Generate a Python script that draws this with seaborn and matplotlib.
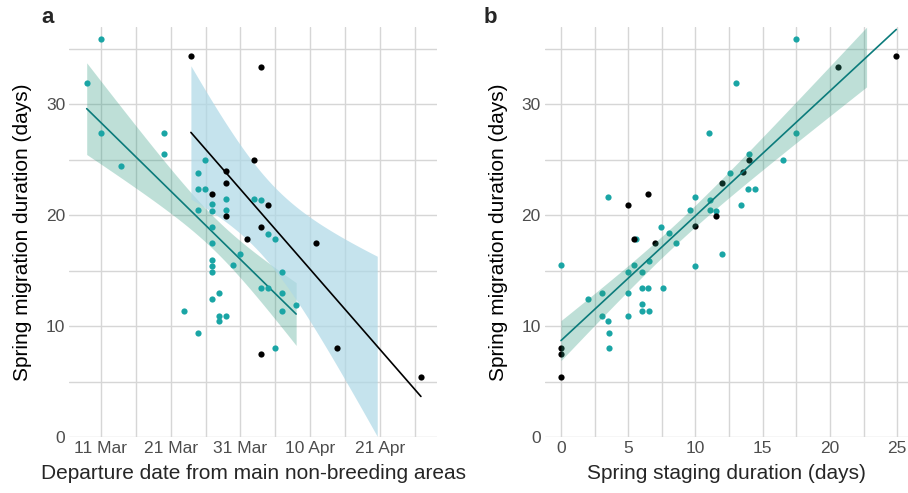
import numpy as np
import matplotlib
matplotlib.use("Agg")
import matplotlib.pyplot as plt
import seaborn as sns

# panel a: departure date (day of year) vs spring migration duration (days)
dep_teal = [70, 67.95, 70, 72.9, 79, 79, 84.9, 83.9, 83.9, 84.9, 83.9, 85.9, 85.9, 87.9,
            87.9, 85.9, 85.9, 85.9, 85.9, 85.9, 90, 89, 91.9, 93, 93.9, 94.9, 95.9, 93,
            93.9, 95.9, 95.9, 98, 85.9, 86.9, 86.9, 86.9, 87.9, 81.9, 83.9, 94.9]
dur_teal_a = [35.9, 31.9, 27.4, 24.4, 27.4, 25.5, 25.0, 23.8, 22.4, 22.4, 20.5, 21.0, 20.4, 21.5,
              20.5, 18.9, 17.5, 16.0, 15.4, 14.9, 16.5, 15.5, 21.5, 21.4, 18.3, 17.9, 14.9, 13.4,
              13.4, 13.0, 11.4, 11.9, 12.4, 13.0, 10.9, 10.5, 10.9, 11.4, 9.4, 8.0]
dep_black = [82.9, 93, 91.9, 87.9, 87.9, 85.9, 87.9, 93.9, 93, 90.9, 93, 100.9, 103.9, 115.9]
dur_black_a = [34.4, 33.4, 25.0, 24.0, 22.9, 21.9, 19.9, 20.9, 18.9, 17.9, 7.45, 17.5, 8.0, 5.4]

# panel b: spring staging duration vs spring migration duration (days)
stage_teal = [0, 1.98, 3.02, 3.02, 3.47, 3.6, 3.6, 3.47, 5.0, 5.45, 5.0, 5.0, 6.05, 6.05,
              6.5, 6.05, 6.05, 6.55, 7.58, 6.55, 5.6, 7.43, 8.03, 8.53, 9.57, 9.99, 9.99,
              11.1, 11.06, 11.55, 12.0, 13.4, 13.9, 14.4, 17.45, 13.0, 11.03, 17.5, 13.98,
              16.5, 12.57]
dur_teal_b = [15.5, 12.4, 13.0, 10.9, 10.5, 9.4, 8.0, 21.6, 14.9, 15.5, 13.0, 10.9, 14.9, 13.4,
              13.4, 12.0, 11.4, 11.4, 13.4, 15.9, 17.9, 18.9, 18.4, 17.5, 20.5, 21.6, 15.4,
              21.4, 20.5, 20.4, 16.5, 20.9, 22.4, 22.4, 35.9, 31.9, 27.4, 27.4, 25.5,
              25.0, 23.8]
stage_black = [0, 0, 0, 5.0, 6.5, 5.45, 6.99, 10.0, 11.5, 11.95, 20.57, 24.93, 13.98, 13.5]
dur_black_b = [8.0, 7.45, 5.4, 20.9, 21.9, 17.9, 17.5, 19.0, 19.9, 22.9, 33.4, 34.4, 25.0, 23.9]

date_ticks = [70, 80, 90, 100, 110]
date_labels = ["11 Mar", "21 Mar", "31 Mar", "10 Apr", "21 Apr"]
stage_ticks = [0, 5, 10, 15, 20, 25]
dur_ticks = [0, 10, 20, 30]
Y_MAX = 37

TEAL = "#1aa5a5"
LINE_TEAL = "#0b7b7b"
GREEN_BAND = "#29987d"
BLUE_BAND = "#add8e6"

sns.set_theme(style="whitegrid")
plt.rcParams['font.family'] = ['Liberation Sans', 'DejaVu Sans']


def t975(df):
    # Cornish-Fisher approximation of the t quantile
    z = 1.959964
    return (z + (z**3 + z) / (4 * df) + (5 * z**5 + 16 * z**3 + 3 * z) / (96 * df**2)
            + (3 * z**7 + 19 * z**5 + 17 * z**3 - 15 * z) / (384 * df**3))


def add_smooth(ax, x, y, line_col, band_col, band_alpha):
    x = np.asarray(x, float)
    y = np.asarray(y, float)
    b1, b0 = np.polyfit(x, y, 1)
    grid = np.linspace(x.min(), x.max(), 80)
    fit = b0 + b1 * grid
    resid = y - (b0 + b1 * x)
    s = np.sqrt((resid ** 2).sum() / (len(x) - 2))
    se = s * np.sqrt(1 / len(x) + (grid - x.mean()) ** 2 / ((x - x.mean()) ** 2).sum())
    w = t975(len(x) - 2) * se
    lo, hi = fit - w, fit + w
    # rows outside the y limits are dropped, as ggplot does
    keep = (lo >= 0) & (hi <= Y_MAX)
    ax.fill_between(grid, lo, hi, where=keep, color=band_col, alpha=band_alpha, lw=0, zorder=3)
    ok = (fit >= 0) & (fit <= Y_MAX)
    sns.lineplot(x=grid[ok], y=fit[ok], ax=ax, color=line_col, lw=1.2, zorder=4)


def style_axes(ax):
    ax.set_ylim(0, Y_MAX)
    ax.set_yticks(dur_ticks)
    ax.set_yticks([5, 15, 25, 35], minor=True)
    ax.grid(which='both', color='#d6d6d6', lw=1.0)
    for sp in ax.spines.values():
        sp.set_visible(False)
    ax.tick_params(which='both', length=0, labelsize=12.5, labelcolor='#4d4d4d', pad=3)
    ax.set_ylabel("Spring migration duration (days)", fontsize=15, color='black', labelpad=10)


fig = plt.figure(figsize=(9.08, 4.93), dpi=100)
ax1 = fig.add_axes([0.0763, 0.1136, 0.4053, 0.8322])
ax2 = fig.add_axes([0.6002, 0.1136, 0.3998, 0.8322])

# panel a - points sit above the ribbons here
add_smooth(ax1, dep_teal, dur_teal_a, LINE_TEAL, GREEN_BAND, 0.3)
add_smooth(ax1, dep_black, dur_black_a, 'black', BLUE_BAND, 0.7)
sns.scatterplot(x=dep_teal, y=dur_teal_a, ax=ax1, color=TEAL, s=20, linewidth=0, zorder=5)
sns.scatterplot(x=dep_black, y=dur_black_a, ax=ax1, color='black', s=20, linewidth=0, zorder=5)
style_axes(ax1)
ax1.set_xlim(65.45, 118.25)
ax1.set_xticks(date_ticks)
ax1.set_xticklabels(date_labels)
ax1.set_xticks([75, 85, 95, 105, 115], minor=True)
ax1.set_xlabel("Departure date from main non-breeding areas", fontsize=15, labelpad=6)

# panel b - ribbon drawn over the points
sns.scatterplot(x=stage_teal, y=dur_teal_b, ax=ax2, color=TEAL, s=20, linewidth=0, zorder=2)
sns.scatterplot(x=stage_black, y=dur_black_b, ax=ax2, color='black', s=20, linewidth=0, zorder=2)
add_smooth(ax2, stage_teal + stage_black, dur_teal_b + dur_black_b, LINE_TEAL, GREEN_BAND, 0.3)
style_axes(ax2)
ax2.set_xlim(-1.19, 25.8)
ax2.set_xticks(stage_ticks)
ax2.set_xticks([2.5, 7.5, 12.5, 17.5, 22.5], minor=True)
ax2.set_xlabel("Spring staging duration (days)", fontsize=15, labelpad=6)

fig.text(0.052, 0.965, "a", fontsize=16, fontweight='bold', ha='center', va='center')
fig.text(0.540, 0.965, "b", fontsize=16, fontweight='bold', ha='center', va='center')

fig.savefig("out.png", dpi=100)
